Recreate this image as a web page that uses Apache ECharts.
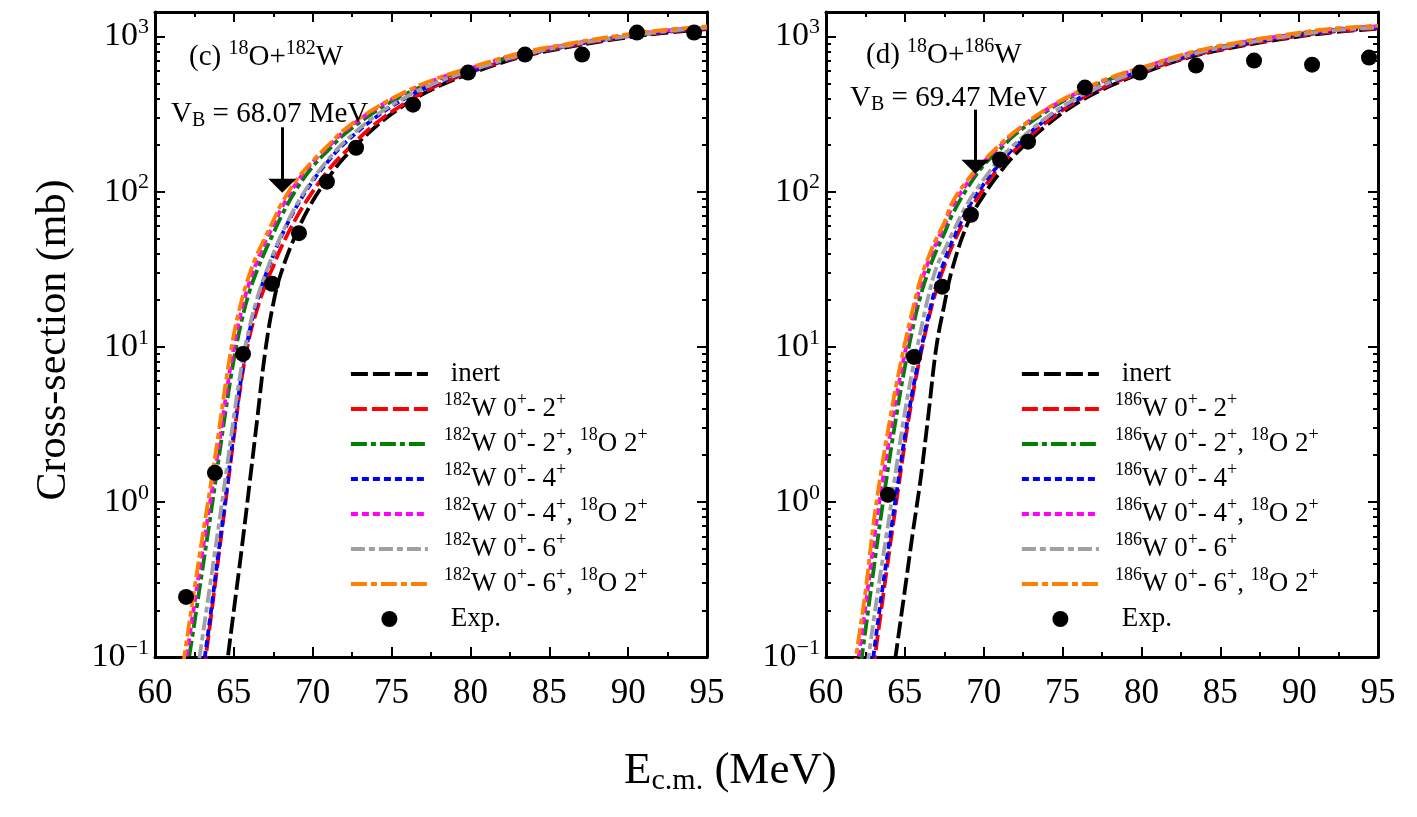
<!DOCTYPE html>
<html>
<head>
<meta charset="utf-8">
<title>Fusion cross-sections 18O+182W and 18O+186W</title>
<script src="https://cdn.jsdelivr.net/npm/echarts@6/dist/echarts.min.js"></script>
<style>
html, body { margin: 0; padding: 0; background: #fff; }
#chart { width: 1417px; height: 817px; }
</style>
</head>
<body>
<div id="chart"></div>
<script>
// energy grid (MeV) of the calculated curves
const energies = [61.5, 62, 62.5, 63, 63.5, 64, 64.5, 65, 65.5, 66, 66.5, 67, 67.5, 68, 69, 70, 71, 72, 74, 76, 78, 80, 83, 86, 89, 92, 95]

// (c) 18O+182W, cross-section in mb
const w182Inert = [null, null, null, null, null, 0.028, 0.079, 0.2, 0.5, 1.32, 3.55, 9.5, 19, 30, 55, 87, 123, 166, 263, 372, 479, 578, 728, 847, 955, 1047, 1117]
const w182Q2 = [0.005, 0.011, 0.026, 0.068, 0.166, 0.42, 1.05, 2.63, 6.3, 11.7, 17.8, 25.1, 33.1, 43.7, 69, 100, 138, 178, 275, 380, 490, 589, 736, 857, 966, 1059, 1127]
const w182Q2O = [0.028, 0.076, 0.166, 0.363, 0.79, 1.78, 4.0, 8.3, 14.8, 22.9, 31.6, 41.7, 53.7, 69.2, 105, 145, 186, 234, 331, 431, 531, 617, 759, 871, 977, 1072, 1143]
const w182Q4 = [0.0063, 0.014, 0.032, 0.076, 0.18, 0.45, 1.12, 2.8, 6.6, 12.6, 20, 28.8, 38.9, 51.3, 81, 117, 158, 204, 302, 407, 507, 596, 745, 865, 973, 1067, 1135]
const w182Q4O = [0.045, 0.1, 0.22, 0.47, 1.0, 2.14, 4.8, 10, 17.4, 26.3, 36.3, 47.9, 60.3, 77.6, 115, 155, 195, 245, 343, 442, 537, 624, 767, 881, 989, 1084, 1148]
const w182Q6 = [0.0126, 0.028, 0.06, 0.132, 0.295, 0.66, 1.51, 3.55, 7.6, 13.5, 20.9, 29.5, 39.8, 52.5, 83, 120, 162, 209, 309, 412, 513, 603, 750, 871, 977, 1072, 1143]
const w182Q6O = [0.056, 0.126, 0.275, 0.59, 1.23, 2.63, 6.0, 12.0, 20, 29.5, 40, 51, 65, 83, 120, 158, 200, 251, 347, 447, 543, 631, 776, 891, 1000, 1096, 1161]
const w182ExpE = [61.97, 63.8, 65.58, 67.42, 69.13, 70.9, 72.75, 76.36, 79.85, 83.46, 87.08, 90.56, 94.18]
const w182ExpSigma = [0.244, 1.54, 9.0, 25.5, 54, 116, 192, 364, 586, 765, 765, 1061, 1061]

// (d) 18O+186W, cross-section in mb
const w186Inert = [null, null, null, null, null, 0.05, 0.117, 0.27, 0.63, 1.41, 3.7, 10, 18.6, 31.6, 63, 95, 132, 174, 269, 376, 479, 579, 733, 857, 966, 1062, 1122]
const w186Q2 = [0.005, 0.0126, 0.0316, 0.083, 0.2, 0.47, 1.07, 2.4, 4.9, 8.9, 15.1, 23.4, 33.1, 44.7, 72, 105, 145, 186, 282, 389, 490, 589, 741, 867, 977, 1072, 1130]
const w186Q2O = [0.025, 0.063, 0.148, 0.355, 0.83, 1.82, 3.8, 7.4, 13.2, 21.4, 30.9, 41.7, 53.7, 70.8, 107, 148, 186, 234, 331, 431, 531, 621, 771, 895, 1005, 1102, 1156]
const w186Q4 = [0.0063, 0.016, 0.04, 0.1, 0.24, 0.54, 1.2, 2.63, 5.25, 9.3, 15.8, 25.1, 35.5, 47.9, 78, 112, 151, 195, 295, 398, 501, 603, 753, 879, 991, 1086, 1143]
const w186Q4O = [0.038, 0.089, 0.209, 0.525, 1.2, 2.5, 5.0, 9.1, 15.5, 25.1, 35.5, 46.8, 60.3, 79.4, 115, 155, 195, 243, 339, 437, 537, 627, 776, 902, 1012, 1109, 1164]
const w186Q6 = [0.011, 0.028, 0.071, 0.166, 0.37, 0.79, 1.78, 3.8, 7.2, 12.6, 21.4, 32.4, 41.7, 53.7, 85, 120, 162, 204, 302, 407, 507, 607, 759, 885, 995, 1091, 1148]
const w186Q6O = [0.05, 0.117, 0.263, 0.71, 1.58, 3.16, 6.0, 10.5, 17.4, 27.5, 38, 50, 63, 85, 120, 158, 200, 245, 343, 442, 543, 631, 785, 912, 1023, 1122, 1175]
const w186ExpE = [63.93, 65.58, 67.36, 69.19, 71.03, 72.81, 76.42, 79.9, 83.46, 87.14, 90.82, 94.43]
const w186ExpSigma = [1.11, 8.6, 24.4, 71, 161, 210, 469, 586, 650, 700, 659, 732]

// barrier heights (MeV) and arrow ends (mb)
const barriers = [68.07, 69.47]
const arrowFrom = [260, 338]
const arrowTo = [109, 145]

const xTicks = [60, 65, 70, 75, 80, 85, 90, 95]
const yMajor = [0.1, 1, 10, 100, 1000]
const yMinor = [0.2, 0.3, 0.4, 0.5, 0.6, 0.7, 0.8, 0.9, 2, 3, 4, 5, 6, 7, 8, 9, 20, 30, 40, 50, 60, 70, 80, 90, 200, 300, 400, 500, 600, 700, 800, 900]

const FONT = 'Liberation Serif'
const gridLefts = [155, 826]

const chartInstance = echarts.init(document.getElementById('chart'))

const supRich = {
  s: { fontSize: 18, fontFamily: FONT, color: '#000', padding: [0, 0, 18, 0] },
  b: { fontSize: 27, fontFamily: FONT, color: '#000', lineHeight: 36 }
}

// series name -> rich legend text
function legendText (name) {
  if (name === 'inert' || name === 'Exp.') return '{b| ' + name + '}'
  const parts = name.split('|')
  let t = '{s|' + parts[0] + '}{b|W 0}{s|+}{b|- ' + parts[1] + '}{s|+}'
  if (parts[2]) t += '{b|, }{s|18}{b|O 2}{s|+}'
  return t
}

function lineSeries (name, values, color, dash, p) {
  return {
    type: 'line',
    name: name,
    xAxisIndex: p * 2,
    yAxisIndex: p * 4,
    data: energies.map((e, i) => [e, values[i]]),
    symbol: 'none',
    smooth: 0.4,
    connectNulls: false,
    lineStyle: { color: color, width: 3.8, type: dash },
    itemStyle: { color: color },
    z: 3
  }
}

function expSeries (es, sig, p) {
  return {
    type: 'scatter',
    name: 'Exp.',
    xAxisIndex: p * 2,
    yAxisIndex: p * 4,
    data: es.map((e, i) => [e, sig[i]]),
    symbol: 'circle',
    symbolSize: 16,
    itemStyle: { color: '#000', opacity: 1 },
    z: 5,
    markLine: {
      silent: true,
      symbol: ['none', 'triangle'],
      symbolSize: [28, 14],
      lineStyle: { color: '#000', width: 3, type: 'solid' },
      label: { show: false },
      data: [[{ coord: [barriers[p], arrowFrom[p]] }, { coord: [barriers[p], arrowTo[p]] }]]
    }
  }
}

const styles = [
  ['#000000', [17, 5]],
  ['#ff0000', [16, 5]],
  ['#008000', [16, 4, 5, 4]],
  ['#0000ff', [7, 4]],
  ['#ff00ff', [7, 4]],
  ['#a0a0a4', [14, 4, 6, 4]],
  ['#ff8000', [16, 4, 6, 4]]
]

const panels = [
  { mass: '182', curves: [w182Inert, w182Q2, w182Q2O, w182Q4, w182Q4O, w182Q6, w182Q6O], expE: w182ExpE, expS: w182ExpSigma },
  { mass: '186', curves: [w186Inert, w186Q2, w186Q2O, w186Q4, w186Q4O, w186Q6, w186Q6O], expE: w186ExpE, expS: w186ExpSigma }
]

const series = []
const legends = []
panels.forEach((pn, p) => {
  const names = ['inert',
    pn.mass + '|2', pn.mass + '|2|O',
    pn.mass + '|4', pn.mass + '|4|O',
    pn.mass + '|6', pn.mass + '|6|O']
  names.forEach((n, k) => {
    series.push(lineSeries(n, pn.curves[k], styles[k][0], styles[k][1], p))
  })
  series.push(expSeries(pn.expE, pn.expS, p))
  // line items without the symbol dot, only the dashed line
  const items = names.map(n => ({ name: n, itemStyle: { opacity: 0 } }))
  items.push({ name: 'Exp.', itemStyle: { opacity: 1, color: '#000' } })
  legends.push({
    data: items,
    orient: 'vertical',
    left: gridLefts[p] + 194,
    top: 356,
    padding: 0,
    itemWidth: 77,
    itemHeight: 16,
    itemGap: -1,
    selectedMode: false,
    formatter: legendText,
    lineStyle: { width: 3.8 },
    textStyle: { fontSize: 27, fontFamily: FONT, color: '#000', lineHeight: 36, padding: [0, 0, 0, 11], rich: supRich }
  })
})

const grids = gridLefts.map(l => ({ left: l, top: 12, width: 552, height: 645 }))

const xAxes = []
gridLefts.forEach((l, p) => {
  ['bottom', 'top'].forEach(pos => {
    xAxes.push({
      type: 'value',
      gridIndex: p,
      position: pos,
      min: 60,
      max: 95,
      interval: 5,
      axisLine: { show: true, onZero: false, lineStyle: { color: '#000', width: 3 } },
      axisTick: { show: true, inside: true, length: 10, lineStyle: { color: '#000', width: 2 } },
      minorTick: { show: true, splitNumber: 2, length: 5, lineStyle: { color: '#000', width: 2 } },
      splitLine: { show: false },
      axisLabel: {
        show: pos === 'bottom',
        customValues: xTicks,
        margin: 19,
        fontSize: 35,
        fontFamily: FONT,
        color: '#000'
      }
    })
  })
})

const yAxes = []
gridLefts.forEach((l, p) => {
  ['left', 'right'].forEach(pos => {
    // major ticks (with labels on the left)
    yAxes.push({
      type: 'log',
      logBase: 10,
      gridIndex: p,
      position: pos,
      min: 0.1,
      max: 1440,
      axisLine: { show: true, onZero: false, lineStyle: { color: '#000', width: 3 } },
      axisTick: { show: true, inside: true, length: 10, customValues: yMajor, lineStyle: { color: '#000', width: 2 } },
      splitLine: { show: false },
      axisLabel: {
        show: pos === 'left',
        customValues: yMajor,
        margin: 6,
        formatter: v => {
          const e = Math.round(Math.log10(v))
          return '{m|10}{e|' + (e < 0 ? '\u2212' + (-e) : e) + '}'
        },
        rich: {
          m: { fontSize: 34, fontFamily: FONT, color: '#000' },
          e: { fontSize: 22, fontFamily: FONT, color: '#000', padding: [0, 0, 18, 0] }
        }
      }
    })
    // minor ticks
    yAxes.push({
      type: 'log',
      logBase: 10,
      gridIndex: p,
      position: pos,
      min: 0.1,
      max: 1440,
      axisLine: { show: false },
      axisTick: { show: true, inside: true, length: 5, customValues: yMinor, lineStyle: { color: '#000', width: 2 } },
      splitLine: { show: false },
      axisLabel: { show: false }
    })
  })
})

const titleStyle = {
  fontSize: 29,
  fontWeight: 'normal',
  fontFamily: FONT,
  color: '#000',
  rich: {
    s: { fontSize: 20, fontFamily: FONT, color: '#000', padding: [0, 0, 17, 0] },
    u: { fontSize: 20, fontFamily: FONT, color: '#000', padding: [14, 0, 0, 0] }
  }
}

const option = {
  animation: false,
  backgroundColor: '#fff',
  grid: grids,
  xAxis: xAxes,
  yAxis: yAxes,
  legend: legends,
  title: [
    { text: '(c) {s|18}O+{s|182}W', left: 189, top: 39, padding: 0, textStyle: titleStyle },
    { text: 'V{u|B} = 68.07 MeV', left: 171, top: 97, padding: 0, textStyle: titleStyle },
    { text: '(d) {s|18}O+{s|186}W', left: 866, top: 37, padding: 0, textStyle: titleStyle },
    { text: 'V{u|B} = 69.47 MeV', left: 850, top: 81, padding: 0, textStyle: titleStyle },
    {
      text: 'E{x|c.m.} (MeV)',
      left: 624,
      top: 746,
      padding: 0,
      textStyle: {
        fontSize: 45,
        fontWeight: 'normal',
        fontFamily: FONT,
        color: '#000',
        rich: { x: { fontSize: 30, fontFamily: FONT, color: '#000', padding: [20, 0, 0, 0] } }
      }
    }
  ],
  graphic: [{
    type: 'text',
    x: 54,
    y: 340,
    rotation: Math.PI / 2,
    style: {
      text: 'Cross-section (mb)',
      font: '42px "Liberation Serif"',
      fill: '#000',
      align: 'center',
      verticalAlign: 'middle'
    }
  }],
  series: series
}

chartInstance.setOption(option)
</script>
</body>
</html>
